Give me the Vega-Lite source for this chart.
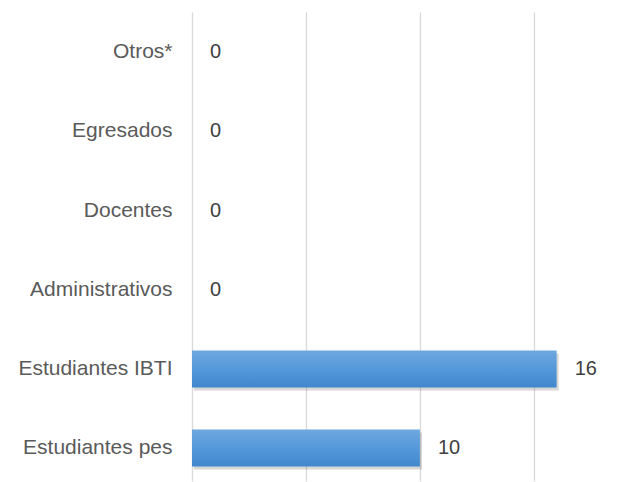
{
  "$schema": "https://vega.github.io/schema/vega-lite/v6.json",
  "autosize": "none",
  "padding": {"left": 192, "top": 12, "right": 13, "bottom": 1},
  "width": 433,
  "height": 469,
  "background": "white",
  "config": {"view": {"stroke": null}},
  "data": {
    "values": [
      {"categoria": "Otros*", "valor": 0},
      {"categoria": "Egresados", "valor": 0},
      {"categoria": "Docentes", "valor": 0},
      {"categoria": "Administrativos", "valor": 0},
      {"categoria": "Estudiantes IBTI", "valor": 16},
      {"categoria": "Estudiantes pes", "valor": 10}
    ]
  },
  "encoding": {
    "y": {
      "field": "categoria",
      "type": "nominal",
      "sort": ["Otros*", "Egresados", "Docentes", "Administrativos", "Estudiantes IBTI", "Estudiantes pes"],
      "scale": {"paddingInner": 0.533, "paddingOuter": 0.2275, "align": 0.6},
      "axis": {
        "title": null,
        "domain": false,
        "ticks": false,
        "labelFont": "Liberation Sans",
        "labelFontSize": 21,
        "labelColor": "#5a5a5a",
        "labelPadding": 20,
        "labelLimit": 300
      }
    },
    "x": {
      "field": "valor",
      "type": "quantitative",
      "scale": {"domain": [0, 19], "nice": false},
      "axis": {
        "title": null,
        "values": [0, 5, 10, 15],
        "labels": false,
        "ticks": false,
        "domain": false,
        "grid": true,
        "gridColor": "#d9d9d9",
        "gridWidth": 1.3
      }
    }
  },
  "layer": [
    {
      "mark": {"type": "bar", "color": "#6f6f6f", "opacity": 0.28, "yOffset": 3, "xOffset": 2},
      "transform": [{"filter": "datum.valor > 0"}]
    },
    {
      "mark": {
        "type": "bar",
        "color": {
          "gradient": "linear",
          "x1": 0, "y1": 0, "x2": 0, "y2": 1,
          "stops": [
            {"offset": 0, "color": "#6ea7de"},
            {"offset": 0.5, "color": "#5499da"},
            {"offset": 1, "color": "#4187cc"}
          ]
        }
      }
    },
    {
      "mark": {
        "type": "text",
        "align": "left",
        "baseline": "middle",
        "dx": 18,
        "font": "Liberation Sans",
        "fontSize": 20,
        "color": "#404040"
      },
      "encoding": {"text": {"field": "valor", "type": "quantitative"}}
    }
  ]
}
